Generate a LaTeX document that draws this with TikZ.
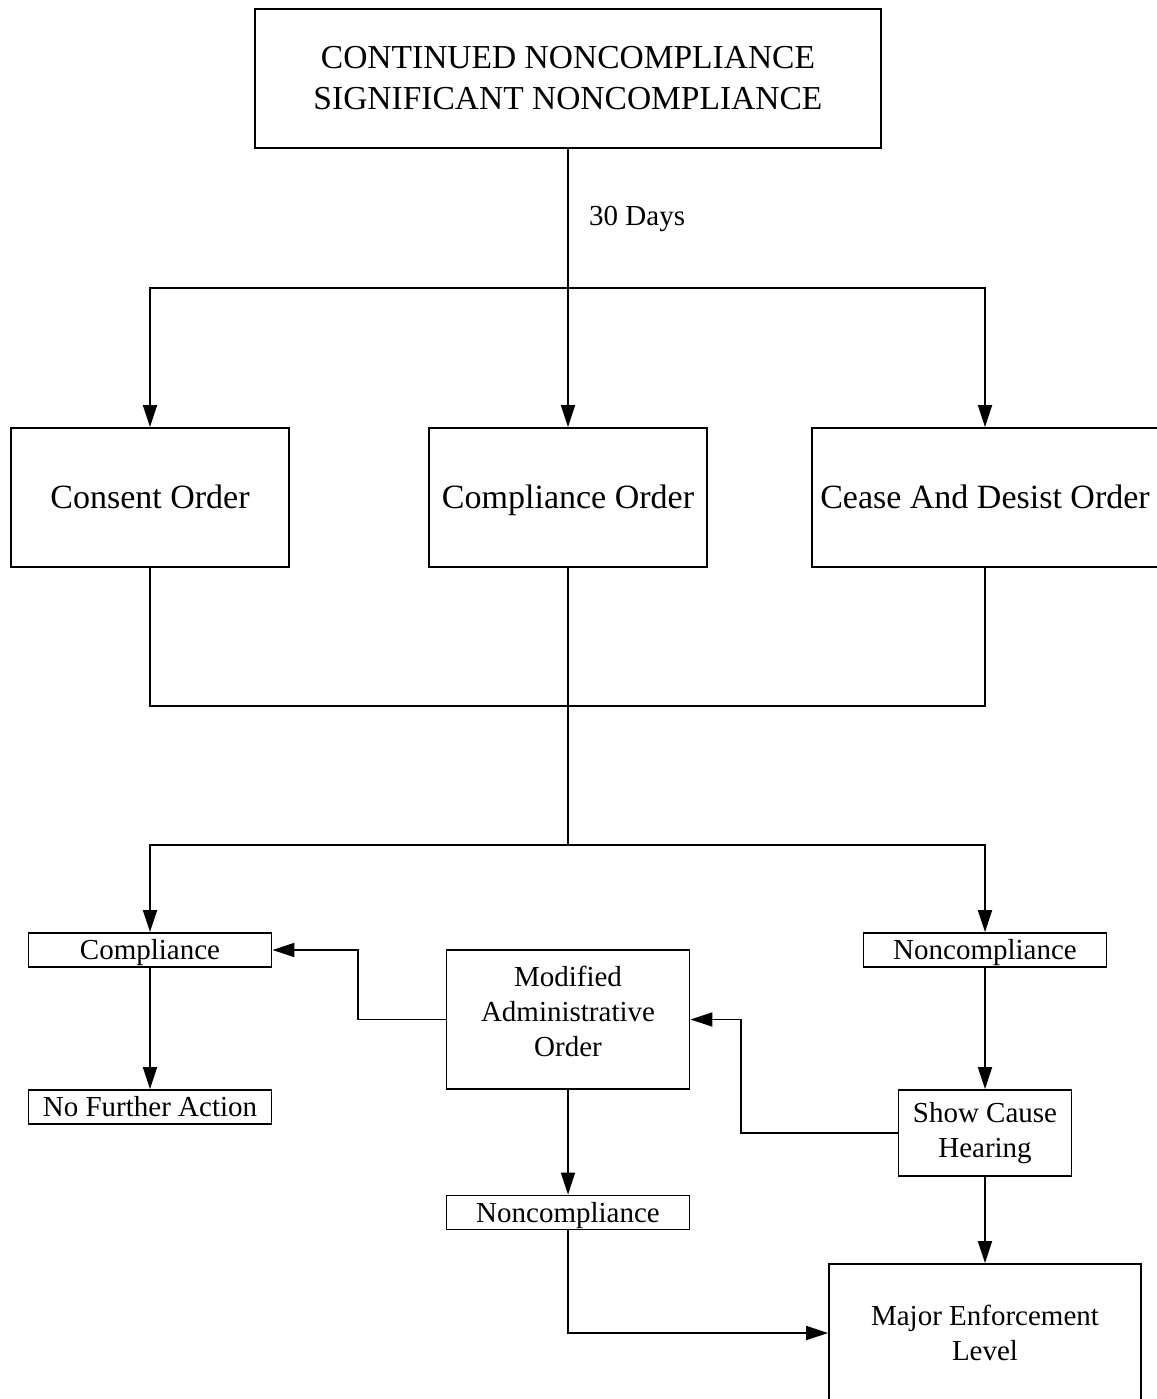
\documentclass[tikz,border=0pt]{standalone}
\usepackage{fontspec}
\setmainfont{Liberation Serif}
\usetikzlibrary{arrows.meta,positioning}

\begin{document}
\begin{tikzpicture}[
  x=1pt, y=-1pt,
  line width=1.8pt,
  bigbox/.style={draw, align=center, inner sep=0pt, minimum width=278pt,
    minimum height=139pt, font=\fontsize{34}{41}\selectfont},
  order/.style={bigbox, text height=30pt, text depth=7.5pt},
  midbox/.style={draw, align=center, inner sep=0pt, minimum width=243pt,
    minimum height=139pt, font=\fontsize{29}{35}\selectfont},
  tag/.style={draw, align=center, inner sep=0pt, minimum width=243pt,
    minimum height=34pt, font=\fontsize{29}{35}\selectfont,
    text height=26pt, text depth=6.5pt},
  arr/.style={-{Triangle[length=22pt, width=14pt]}}
]
\useasboundingbox (0,0) rectangle (1156,1399);

% top level
\node[bigbox, minimum width=626pt, font=\fontsize{33.5}{41}\selectfont]
  (start) at (568,78.5) {CONTINUED NONCOMPLIANCE\\SIGNIFICANT NONCOMPLIANCE};
\node[anchor=west, font=\fontsize{29}{35}\selectfont] (days) at (585,219) {30 Days};

% orders
\node[order] (consent) at (150,497.5) {Consent Order};
\node[order] (corder) at (568,497.5) {Compliance Order};
\node[order, minimum width=346pt] (cease) at (985,497.5) {Cease And Desist Order};

% outcomes
\node[tag] (comp) at (150,950) {Compliance};
\node[tag] (noncompR) at (985,950) {Noncompliance};
\node[tag] (nfa) at (150,1107) {No Further Action};
\node[midbox, text depth=16pt] (mao) at (568,1019.5) {Modified\\Administrative\\Order};
\node[midbox, minimum width=173pt, minimum height=86pt] (sch) at (985,1133) {Show Cause\\Hearing};
\node[tag] (noncompB) at (568,1212.5) {Noncompliance};
\node[midbox, minimum width=312pt, minimum height=138pt] (major) at (985,1333) {Major Enforcement\\Level};

\coordinate (split1) at (568,288);
\coordinate (merge) at (568,706);
\coordinate (split2) at (568,845);

\draw (start) -- (split1);
\draw[arr] (split1) -- (corder);
\draw[arr] (split1) -| (consent);
\draw[arr] (split1) -| (cease);

\draw (consent) |- (merge);
\draw (cease) |- (merge);
\draw (corder) -- (merge);
\draw (merge) -- (split2);
\draw[arr] (split2) -| (comp);
\draw[arr] (split2) -| (noncompR);

\draw[arr] (comp) -- (nfa);
\draw[arr] (noncompR) -- (sch);
\draw[arr] (sch) -- (major);
\draw[arr] (mao) -- (noncompB);
\draw[arr] (mao.west) -- ++(-88,0) |- (comp.east);
\draw[arr] (sch.west) -- ++(-157,0) |- (mao.east);
\draw[arr] (noncompB) |- (major.west);
\end{tikzpicture}
\end{document}
